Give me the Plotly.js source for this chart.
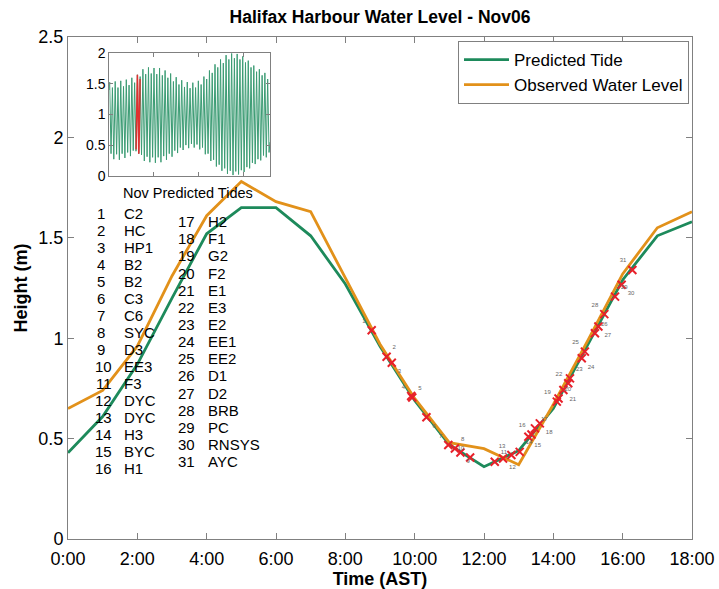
<!DOCTYPE html>
<html>
<head>
<meta charset="utf-8">
<script src="https://cdn.plot.ly/plotly-3.0.1.min.js"></script>
<style>html,body{margin:0;padding:0;background:#fff;}#chart{width:719px;height:589px;}</style>
</head>
<body>
<div id="chart"></div>
<script>
// ---- data ----
const hours = [0,1,2,3,4,5,6,7,8,9,10,11,12,13,14,15,16,17,18];
const predicted = [0.43,0.61,0.87,1.20,1.52,1.65,1.65,1.51,1.27,0.96,0.69,0.47,0.36,0.44,0.65,0.97,1.29,1.51,1.58];
const observed  = [0.65,0.74,0.96,1.31,1.61,1.78,1.68,1.63,1.30,0.97,0.70,0.48,0.45,0.37,0.67,0.99,1.32,1.55,1.63];
const tickHours = [0,2,4,6,8,10,12,14,16,18];
const tickLabels = ['0:00','2:00','4:00','6:00','8:00','10:00','12:00','14:00','16:00','18:00'];

const stationNames = ['C2','HC','HP1','B2','B2','C3','C6','SYC','D3','EE3','F3','DYC','DYC','H3','BYC','H1',
                      'H2','F1','G2','F2','E1','E3','E2','EE1','EE2','D1','D2','BRB','PC','RNSYS','AYC'];
const stationHours = [8.76,9.19,9.34,9.90,9.93,10.34,10.97,11.16,11.32,11.60,12.31,12.55,12.79,13.03,
                      13.28,13.37,13.47,13.61,14.10,14.15,14.29,14.43,14.48,14.82,14.91,15.20,15.30,15.47,15.78,15.97,16.28];
const stationHeights = [1.04,0.908,0.878,0.712,0.705,0.606,0.468,0.451,0.431,0.406,0.385,0.401,0.418,0.434,
                        0.509,0.52,0.551,0.576,0.684,0.70,0.742,0.776,0.80,0.90,0.933,1.025,1.058,1.12,1.207,1.266,1.34];

// November predicted tides (hours since Nov 1 00:00, metres) for the inset
const novHours = [0,1.6,7.8,14.0,20.2,26.4,32.7,38.9,45.1,51.3,57.5,63.7,69.9,76.1,82.3,88.5,94.8,101.0,107.2,113.4,
  119.6,125.8,132.0,138.2,144.4,150.6,156.9,163.1,169.3,175.5,181.7,187.9,194.1,200.3,206.5,212.7,219.0,225.2,231.4,
  237.6,243.8,250.0,256.2,262.4,268.6,274.8,281.1,287.3,293.5,299.7,305.9,312.1,318.3,324.5,330.7,336.9,343.2,349.4,
  355.6,361.8,368.0,374.2,380.4,386.6,392.8,399.0,405.3,411.5,417.7,423.9,430.1,436.3,442.5,448.7,454.9,461.1,467.4,
  473.6,479.8,486.0,492.2,498.4,504.6,510.8,517.0,523.2,529.5,535.7,541.9,548.1,554.3,560.5,566.7,572.9,579.1,585.3,
  591.6,597.8,604.0,610.2,616.4,622.6,628.8,635.0,641.2,647.4,653.6,659.9,666.1,672.3,678.5,684.7,690.9,697.1,703.3,
  709.5,715.7,720];
const novLevels = [1.40,1.53,0.36,1.44,0.27,1.54,0.35,1.44,0.26,1.55,0.36,1.46,0.29,1.57,0.38,1.48,0.32,1.60,0.41,1.52,
  0.40,1.65,0.36,1.62,0.34,1.74,0.24,1.66,0.31,1.77,0.22,1.67,0.30,1.76,0.21,1.66,0.30,1.76,0.22,
  1.64,0.32,1.72,0.26,1.60,0.36,1.67,0.31,1.54,0.41,1.61,0.37,1.49,0.46,1.56,0.42,1.45,0.50,1.53,
  0.45,1.43,0.52,1.52,0.46,1.44,0.51,1.55,0.43,1.49,0.46,1.62,0.35,1.58,0.36,1.72,0.24,1.68,0.26,
  1.82,0.15,1.77,0.18,1.90,0.08,1.84,0.12,1.97,0.03,1.90,0.08,2.00,0.01,1.92,0.07,1.99,0.02,1.90,
  0.09,1.95,0.06,1.85,0.14,1.88,0.12,1.77,0.21,1.80,0.19,1.70,0.27,1.74,0.25,1.64,0.33,1.68,0.30,
  1.58,0.38,0.55];
const nov6StartHour = 120;
const insetTickHours = [0,200,400,600];

// ---- style ----
const FONT = 'Liberation Sans, Arial, sans-serif';
const GREEN = '#1d8a5b';
const ORANGE = '#e2911a';
const AXIS = '#808080';
const L = 68, R = 27, T = 37, B = 50, W = 719, H = 589;
const PW = W - L - R, PH = H - T - B;
const px = x => (x - L) / PW;
const py = y => (H - B - y) / PH;

const labelPositions = ['top left', 'top right', 'bottom right'];

const traces = [
  {x: hours, y: predicted, type: 'scatter', mode: 'lines', name: 'Predicted Tide',
   line: {color: GREEN, width: 2.8}, xaxis: 'x', yaxis: 'y'},
  {x: hours, y: observed, type: 'scatter', mode: 'lines', name: 'Observed Water Level',
   line: {color: ORANGE, width: 2.8}, xaxis: 'x', yaxis: 'y'},
  {x: stationHours, y: stationHeights, type: 'scatter', mode: 'markers+text', showlegend: false,
   text: stationNames.map((_, i) => String(i + 1)),
   textposition: stationNames.map((_, i) => labelPositions[i % 3]),
   textfont: {family: FONT, size: 6, color: '#666'},
   marker: {symbol: 'x-thin', size: 8, color: '#e8202a', line: {color: '#e8202a', width: 2}},
   xaxis: 'x', yaxis: 'y', cliponaxis: false},
  {x: novHours, y: novLevels, type: 'scatter', mode: 'lines', showlegend: false,
   line: {color: '#3c9c74', width: 1}, xaxis: 'x2', yaxis: 'y2'},
  {x: hours.map(h => nov6StartHour + h), y: predicted, type: 'scatter', mode: 'lines', showlegend: false,
   line: {color: '#e03030', width: 1.5}, xaxis: 'x2', yaxis: 'y2'}
];

const annotations = [];
annotations.push({xref: 'paper', yref: 'paper', x: px(188), y: py(193), xanchor: 'center', yanchor: 'middle',
  text: 'Nov Predicted Tides', showarrow: false, font: {family: FONT, size: 14.5, color: '#000'}});
stationNames.forEach((name, i) => {
  let numRight, nameLeft, yc;
  if (i < 16) { numRight = 114; nameLeft = 121.5; yc = 213.3 + 17.03 * i; }
  else { numRight = 197; nameLeft = 205.5; yc = 221.7 + 17.14 * (i - 16); }
  const num = String(i + 1);
  annotations.push({xref: 'paper', yref: 'paper', x: px(num.length === 1 ? numRight - 7 : numRight), y: py(yc),
    xanchor: 'right', yanchor: 'middle', text: num, showarrow: false,
    font: {family: FONT, size: 15, color: '#000'}});
  annotations.push({xref: 'paper', yref: 'paper', x: px(nameLeft), y: py(yc),
    xanchor: 'left', yanchor: 'middle', text: name, showarrow: false,
    font: {family: FONT, size: 15, color: '#000'}});
});

const axisCommon = {
  showline: true, linecolor: AXIS, linewidth: 1, mirror: 'ticks', ticks: 'inside',
  tickcolor: AXIS, ticklen: 6, showgrid: false, zeroline: false,
  tickfont: {family: FONT, size: 18, color: '#000'}
};

const layout = {
  width: W, height: H,
  margin: {l: L, r: R, t: T, b: B},
  paper_bgcolor: '#fff', plot_bgcolor: '#fff',
  title: {text: '<b>Halifax Harbour Water Level - Nov06</b>', font: {family: FONT, size: 17.5, color: '#000'},
          x: 0.5, xref: 'paper', y: 1 - 17 / H, yref: 'container', yanchor: 'middle'},
  xaxis: Object.assign({}, axisCommon, {
    range: [0, 18], tickmode: 'array', tickvals: tickHours, ticktext: tickLabels, ticklabelstandoff: 3,
    title: {text: '<b>Time (AST)</b>', font: {family: FONT, size: 18, color: '#000'}, standoff: 2}
  }),
  yaxis: Object.assign({}, axisCommon, {
    range: [0, 2.5], tickmode: 'array', tickvals: [0, 0.5, 1, 1.5, 2, 2.5], ticktext: ['0','0.5','1','1.5','2','2.5'],
    title: {text: '<b>Height (m)</b>', font: {family: FONT, size: 18, color: '#000'}, standoff: 6}
  }),
  xaxis2: {
    domain: [px(109.3), px(270)], anchor: 'y2', range: [0, 720], tickmode: 'array', tickvals: insetTickHours,
    showticklabels: false, showline: true, linecolor: AXIS, mirror: 'ticks', ticks: 'inside', tickcolor: AXIS,
    ticklen: 4, showgrid: false, zeroline: false
  },
  yaxis2: {
    domain: [py(175.7), py(53.3)], anchor: 'x2', range: [0, 2], tickmode: 'array',
    tickvals: [0, 0.5, 1, 1.5, 2], ticktext: ['0','0.5','1','1.5','2'],
    showline: true, linecolor: AXIS, mirror: 'ticks', ticks: 'inside', tickcolor: AXIS, ticklen: 4,
    showgrid: false, zeroline: false, tickfont: {family: FONT, size: 14, color: '#000'}
  },
  legend: {x: px(458), y: py(41), xanchor: 'left', yanchor: 'top', bgcolor: '#fff',
           bordercolor: AXIS, borderwidth: 1, font: {family: FONT, size: 17, color: '#000'},
           tracegroupgap: 0, itemwidth: 45},
  annotations: annotations,
  showlegend: true
};

Plotly.newPlot('chart', traces, layout, {displayModeBar: false, staticPlot: true});
</script>
</body>
</html>
